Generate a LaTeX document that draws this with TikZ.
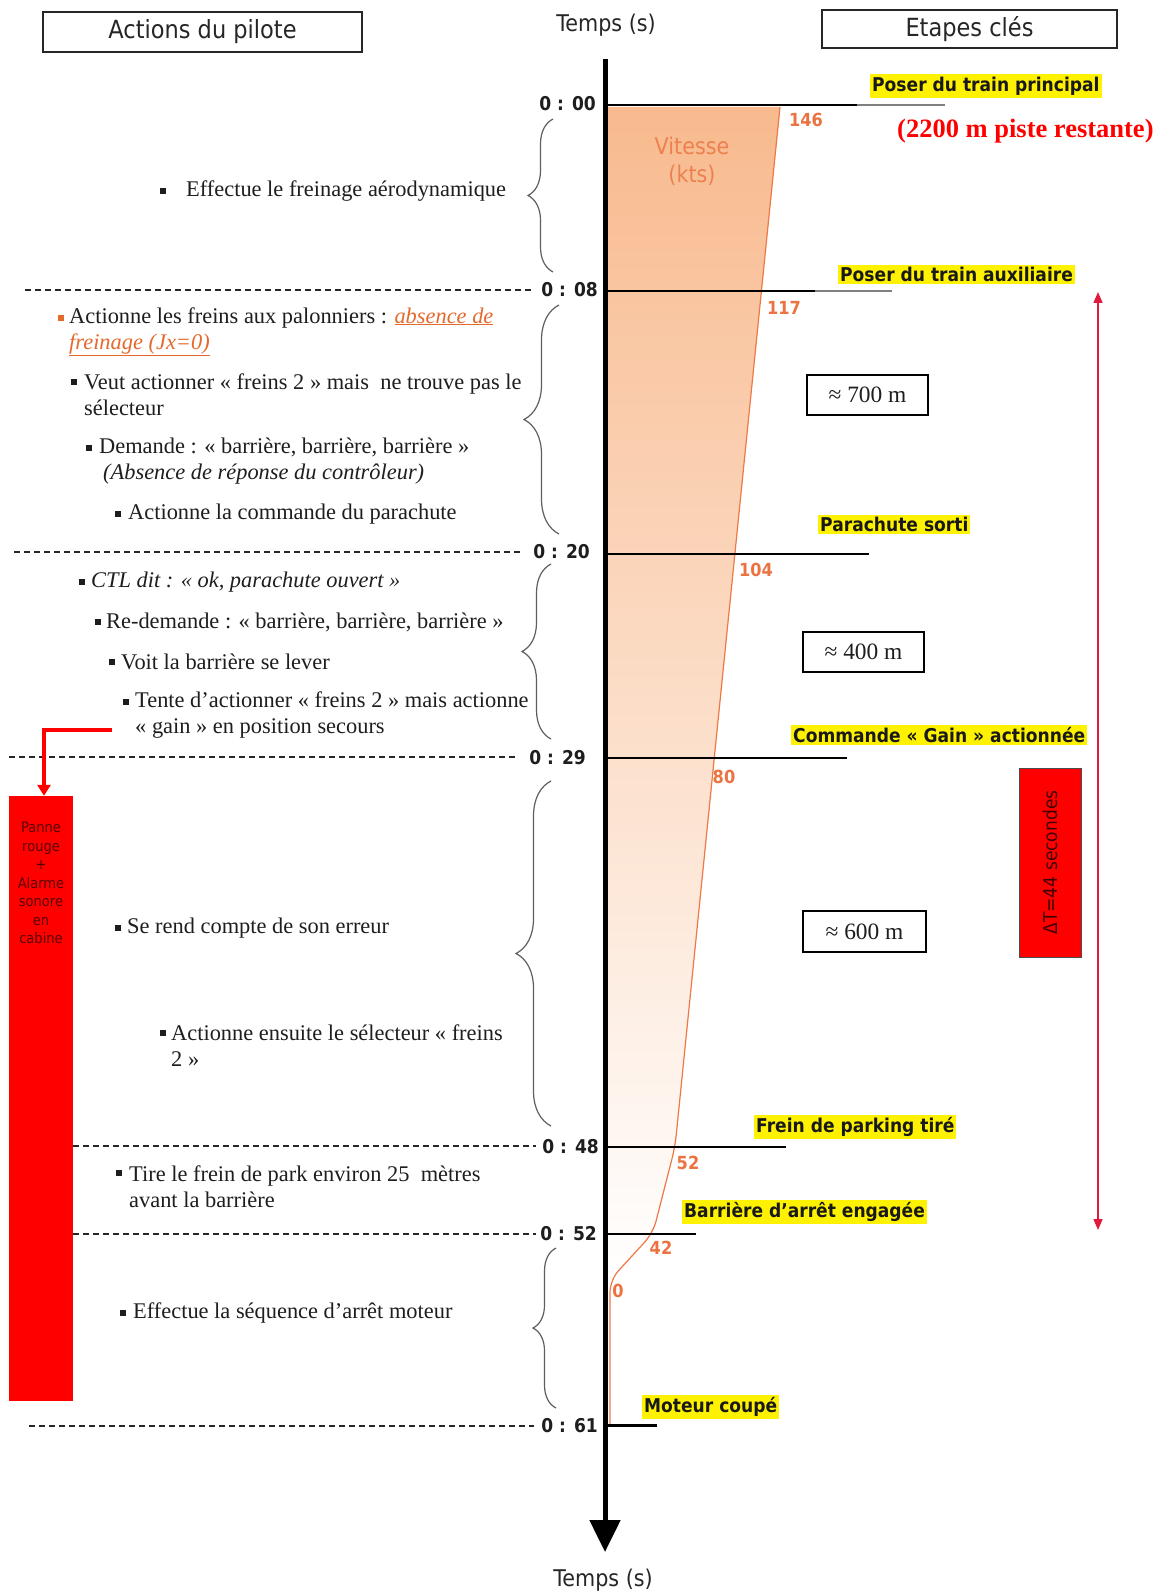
\documentclass[tikz,border=0pt]{standalone}
\usepackage{fontspec}
\setmainfont{Liberation Serif}
\newfontfamily\tahoma[FakeStretch=0.9]{DejaVu Sans}
\usetikzlibrary{arrows.meta,decorations.pathreplacing}
\newcommand{\myfs}[2]{\fontsize{#1}{#2}\selectfont}
\definecolor{txtdark}{RGB}{30,30,30}
\definecolor{onum}{RGB}{235,115,65}
\definecolor{vit}{RGB}{237,128,78}
\definecolor{olink}{RGB}{228,105,45}
\definecolor{vfill}{RGB}{248,186,142}
\definecolor{vcurve}{RGB}{238,120,70}
\definecolor{bracegray}{RGB}{95,95,95}
\definecolor{crimson}{RGB}{225,25,60}
\definecolor{pannetxt}{RGB}{90,0,0}
\begin{document}
\begin{tikzpicture}[x=1pt,y=-1pt,
  lt/.style={anchor=west,inner sep=0pt,align=left,text=txtdark,font=\myfs{22.4}{26}},
  bul/.style={anchor=west,rectangle,fill=txtdark,minimum size=5.5pt,inner sep=0pt},
  tlab/.style={anchor=east,inner sep=0pt,font=\tahoma\bfseries\myfs{19}{22},text=txtdark},
  ylab/.style={anchor=west,fill=yellow,inner xsep=2pt,inner ysep=2.5pt,font=\tahoma\bfseries\myfs{19}{22},text=black!90},
  onumber/.style={inner sep=0pt,font=\tahoma\bfseries\myfs{18}{20},text=onum},
  dline/.style={dash pattern=on 6pt off 4pt,line width=1.3pt,draw=black!85},
  mline/.style={line width=2pt,draw=black},
  brc/.style={decorate,decoration={brace,amplitude=#1,aspect=0.5},draw=bracegray,line width=1.2pt},
  dbox/.style={draw=black,line width=1.5pt,minimum width=121pt,minimum height=40pt,inner sep=0pt,font=\myfs{23.4}{26},text=txtdark},
  hbox/.style={draw=black!85,line width=1.8pt,inner sep=0pt,font=\tahoma\myfs{25}{28},text=black!85},
  speedline/.style={draw=vcurve,line width=1.2pt},
]
\fill[white] (0,0) rectangle (1168,1594);
\useasboundingbox (0,0) rectangle (1168,1594);

% headers
\node[hbox,minimum width=319pt,minimum height=40pt] (hact) at (202.5,32) {Actions du pilote};
\node[hbox,minimum width=295pt,minimum height=38pt] (heta) at (969.5,29) {Etapes clés};
\node[inner sep=0pt,font=\tahoma\myfs{23}{26},text=black!85] (ttop) at (606,25) {Temps (s)};
\node[inner sep=0pt,font=\tahoma\myfs{23}{26},text=black!85] (tbot) at (603,1580) {Temps (s)};

% speed area
\shade[top color=vfill,bottom color=white] (608,107) -- (780,107) -- (675,1147) -- (653,1233) -- (610,1280) -- (608,1280) -- cycle;
\draw[speedline,rounded corners=12pt] (780,107) -- (675,1147) -- (653,1233) -- (610,1280) -- (610,1425);
\node[inner sep=0pt,align=center,font=\tahoma\myfs{23}{28},text=vit] (vit) at (692,161) {Vitesse\\(kts)};

% axis
\coordinate (axtop) at (605,59);
\coordinate (axbot) at (605,1552);
\draw[line width=5pt,-{Triangle[width=30pt,length=32pt]}] (axtop) -- (axbot);

% milestone lines
\draw[mline] (607,105) -- (857,105);
\draw[line width=2pt,draw=black!50] (857,105) -- (945,105);
\draw[mline] (607,291) -- (815,291);
\draw[line width=2pt,draw=black!50] (815,291) -- (892,291);
\draw[mline] (607,554) -- (869,554);
\draw[mline] (607,758) -- (847,758);
\draw[mline] (607,1147) -- (786,1147);
\draw[mline] (607,1234) -- (696,1234);
\draw[line width=3pt] (607,1425) -- (657,1425);

% time labels
\node[tlab] (t00) at (596,104) {0 : 00};
\node[tlab] (t08) at (598,290) {0 : 08};
\node[tlab] (t20) at (590,552) {0 : 20};
\node[tlab] (t29) at (586,758) {0 : 29};
\node[tlab] (t48) at (599,1147) {0 : 48};
\node[tlab] (t52) at (597,1234) {0 : 52};
\node[tlab] (t61) at (598,1426) {0 : 61};

% dashed separators
\draw[dline] (25,290) -- (531,290);
\draw[dline] (14,552) -- (522,552);
\draw[dline] (9,757) -- (518,757);
\draw[dline] (73,1146) -- (536,1146);
\draw[dline] (73,1234) -- (536,1234);
\draw[dline] (29,1426) -- (534,1426);

% braces
\draw[brc=25pt] (553,272) -- (553,119);
\draw[brc=35pt] (559,534) -- (559,305);
\draw[brc=29pt] (551,739) -- (551,564);
\draw[brc=35pt] (551,1126) -- (551,781);
\draw[brc=23pt] (556,1408) -- (556,1248);

% speed numbers
\node[onumber] (v146) at (806,120) {146};
\node[onumber] (v117) at (784,308) {117};
\node[onumber] (v104) at (756,570) {104};
\node[onumber] (v80) at (724,777) {80};
\node[onumber] (v52) at (688,1163) {52};
\node[onumber] (v42) at (661,1248) {42};
\node[onumber] (v0) at (618,1291) {0};

% key steps
\node[ylab] (e1) at (870,86) {Poser du train principal};
\node[inner sep=0pt,anchor=west,font=\bfseries\myfs{26.5}{30},text=red] (piste) at (897,131) {(2200 m piste restante)};
\node[ylab] (e2) at (838,274.5) {Poser du train auxiliaire};
\node[ylab] (e3) at (818,524.5) {Parachute sorti};
\node[ylab] (e4) at (791,735) {Commande « Gain » actionnée};
\node[ylab] (e5) at (754,1127) {Frein de parking tiré};
\node[ylab] (e6) at (682,1212) {Barrière d’arrêt engagée};
\node[ylab] (e7) at (642,1407) {Moteur coupé};

% distance boxes
\node[dbox] (d700) at (867.5,395) {≈ 700 m};
\node[dbox] (d400) at (863.5,652) {≈ 400 m};
\node[dbox,minimum width=123pt,minimum height=41pt] (d600) at (864.5,931.5) {≈ 600 m};

% Delta T
\node[draw=black!70,line width=1pt,fill=red,minimum width=62pt,minimum height=189pt,inner sep=0pt] (dtbox) at (1050,862.5) {};
\node[rotate=90,inner sep=0pt,font=\tahoma\myfs{19}{22},text=black!75!red] (dt) at (dtbox.center) {ΔT=44 secondes};
\coordinate (dtop) at (1098,292);
\coordinate (dbot) at (1098,1230);
\draw[crimson,line width=1.5pt,{Triangle[width=9pt,length=11pt]}-{Triangle[width=9pt,length=11pt]}] (dtop) -- (dbot);

% panne rouge
\node[fill=red,minimum width=64pt,minimum height=605pt,inner sep=0pt] (panne) at (41,1098.5) {};
\node[inner sep=0pt,align=center,font=\tahoma\myfs{14.5}{18.5},text=pannetxt] (pannetxt) at (41,883) {Panne\\rouge\\+\\Alarme\\sonore\\en\\cabine};
\coordinate (lstart) at (112,730);
\coordinate (lcorner) at (44,730);
\draw[red,line width=4pt,line join=miter,-{Triangle[width=13pt,length=11pt]}] (lstart) -- (lcorner) -- (panne.north -| lcorner);

% pilot actions
\node[bul] (b1) at (160,191) {};
\node[lt] (a1) at (186,191) {Effectue le freinage aérodynamique};
\node[bul,fill=olink] (b2) at (58,318) {};
\node[lt] (a2) at (69,331.5) {Actionne les freins aux palonniers : \textcolor{olink}{\textit{\underline{absence de}}}\\\textcolor{olink}{\textit{\underline{freinage (Jx=0)}}}};
\node[bul] (b3) at (71,382) {};
\node[lt] (a3) at (84,395) {Veut actionner « freins 2 » mais\ \ ne trouve pas le\\sélecteur};
\node[bul] (b4) at (86,448) {};
\node[lt] (a4) at (99,461) {Demande : « barrière, barrière, barrière »\\\hspace*{4pt}\textit{(Absence de réponse du contrôleur)}};
\node[bul] (b5) at (115,514) {};
\node[lt] (a5) at (128,514) {Actionne la commande du parachute};
\node[bul] (b6) at (79,582) {};
\node[lt] (a6) at (91,582) {\textit{CTL dit : « ok, parachute ouvert »}};
\node[bul] (b7) at (95,622) {};
\node[lt] (a7) at (106,622) {Re-demande : « barrière, barrière, barrière »};
\node[bul] (b8) at (109,662) {};
\node[lt] (a8) at (121,662) {Voit la barrière se lever};
\node[bul] (b9) at (123,702) {};
\node[lt] (a9) at (135,715) {Tente d’actionner « freins 2 » mais actionne\\« gain » en position secours};
\node[bul] (b10) at (115,928) {};
\node[lt] (a10) at (127,928) {Se rend compte de son erreur};
\node[bul] (b11) at (160,1033) {};
\node[lt] (a11) at (171,1045.5) {Actionne ensuite le sélecteur « freins\\2 »};
\node[bul] (b12) at (116,1173) {};
\node[lt] (a12) at (129,1186.5) {Tire le frein de park environ 25\ \ mètres\\avant la barrière};
\node[bul] (b13) at (120,1313) {};
\node[lt] (a13) at (133,1313) {Effectue la séquence d’arrêt moteur};
\end{tikzpicture}
\end{document}
